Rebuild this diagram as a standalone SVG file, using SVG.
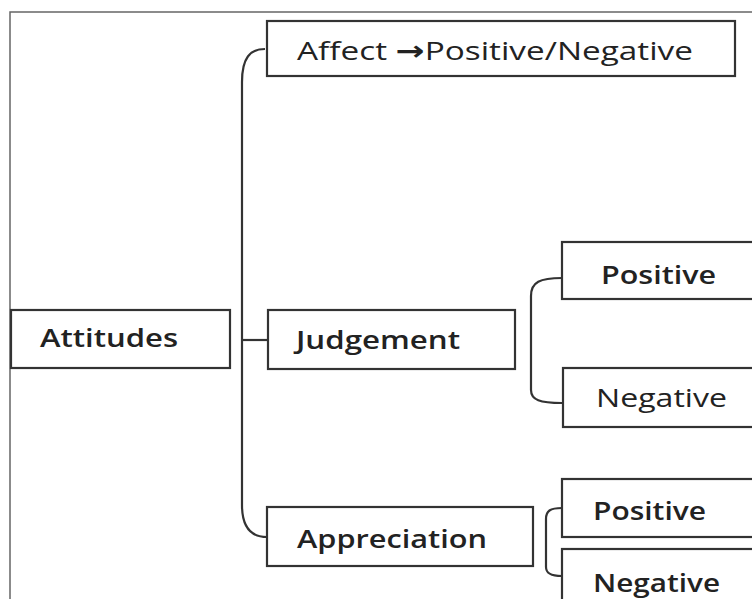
<svg xmlns="http://www.w3.org/2000/svg" width="752" height="599" viewBox="0 0 752 599">
<style>
.box{fill:#fff;stroke:#333;stroke-width:2.2}
.lbl{font-family:"Open Sans","Noto Sans","Liberation Sans",sans-serif;fill:#222;font-size:26px}
.con{fill:none;stroke:#333;stroke-width:2.2}
.frame{fill:none;stroke:#666;stroke-width:1.5}
.arr{font-family:"DejaVu Sans",sans-serif;font-weight:bold}
</style>
<rect x="0" y="0" width="752" height="599" fill="#fff"/>
<path class="frame" d="M10 599 L10 12 L752 12"/>
<g id="connectors">
<path class="con" d="M265 49 C250 49 242 58 242 82 L242 505 C242 526 250 537 267 537"/>
<path class="con" d="M242 340 L268 340"/>
<path class="con" d="M562 278 C540 278 531 282 531 296 L531 390 C531 400 540 403 562 403"/>
<path class="con" d="M562 508 C550 508 546 511 546 519 L546 567 C546 573 550 576 562 576"/>
</g>
<g id="attitudes">
<rect class="box" x="11" y="310" width="219" height="58"/>
<text class="lbl" x="40" y="347" textLength="138" lengthAdjust="spacingAndGlyphs" font-weight="600">Attitudes</text>
</g>
<g id="affect">
<rect class="box" x="267" y="21" width="468" height="55"/>
<text class="lbl" x="297" y="60" font-size="29" textLength="396" lengthAdjust="spacingAndGlyphs">Affect <tspan class="arr" font-size="27">→</tspan>Positive/Negative</text>
</g>
<g id="judgement">
<rect class="box" x="268" y="310" width="247" height="59"/>
<text class="lbl" x="296" y="349" textLength="164" lengthAdjust="spacingAndGlyphs" font-weight="600">Judgement</text>
</g>
<g id="judgement-positive">
<rect class="box" x="562" y="242" width="200" height="57"/>
<text class="lbl" x="601" y="284" textLength="115" lengthAdjust="spacingAndGlyphs" font-weight="600" font-size="24">Positive</text>
</g>
<g id="judgement-negative">
<rect class="box" x="563" y="368" width="200" height="59"/>
<text class="lbl" x="596" y="407" textLength="131" lengthAdjust="spacingAndGlyphs" font-size="29">Negative</text>
</g>
<g id="appreciation">
<rect class="box" x="267" y="507" width="266" height="59"/>
<text class="lbl" x="297" y="548" textLength="190" lengthAdjust="spacingAndGlyphs" font-weight="600">Appreciation</text>
</g>
<g id="appreciation-positive">
<rect class="box" x="562" y="479" width="200" height="58"/>
<text class="lbl" x="593" y="520" textLength="113" lengthAdjust="spacingAndGlyphs" font-weight="600">Positive</text>
</g>
<g id="appreciation-negative">
<rect class="box" x="562" y="549" width="200" height="62"/>
<text class="lbl" x="593" y="592" textLength="127" lengthAdjust="spacingAndGlyphs" font-weight="600">Negative</text>
</g>
</svg>
